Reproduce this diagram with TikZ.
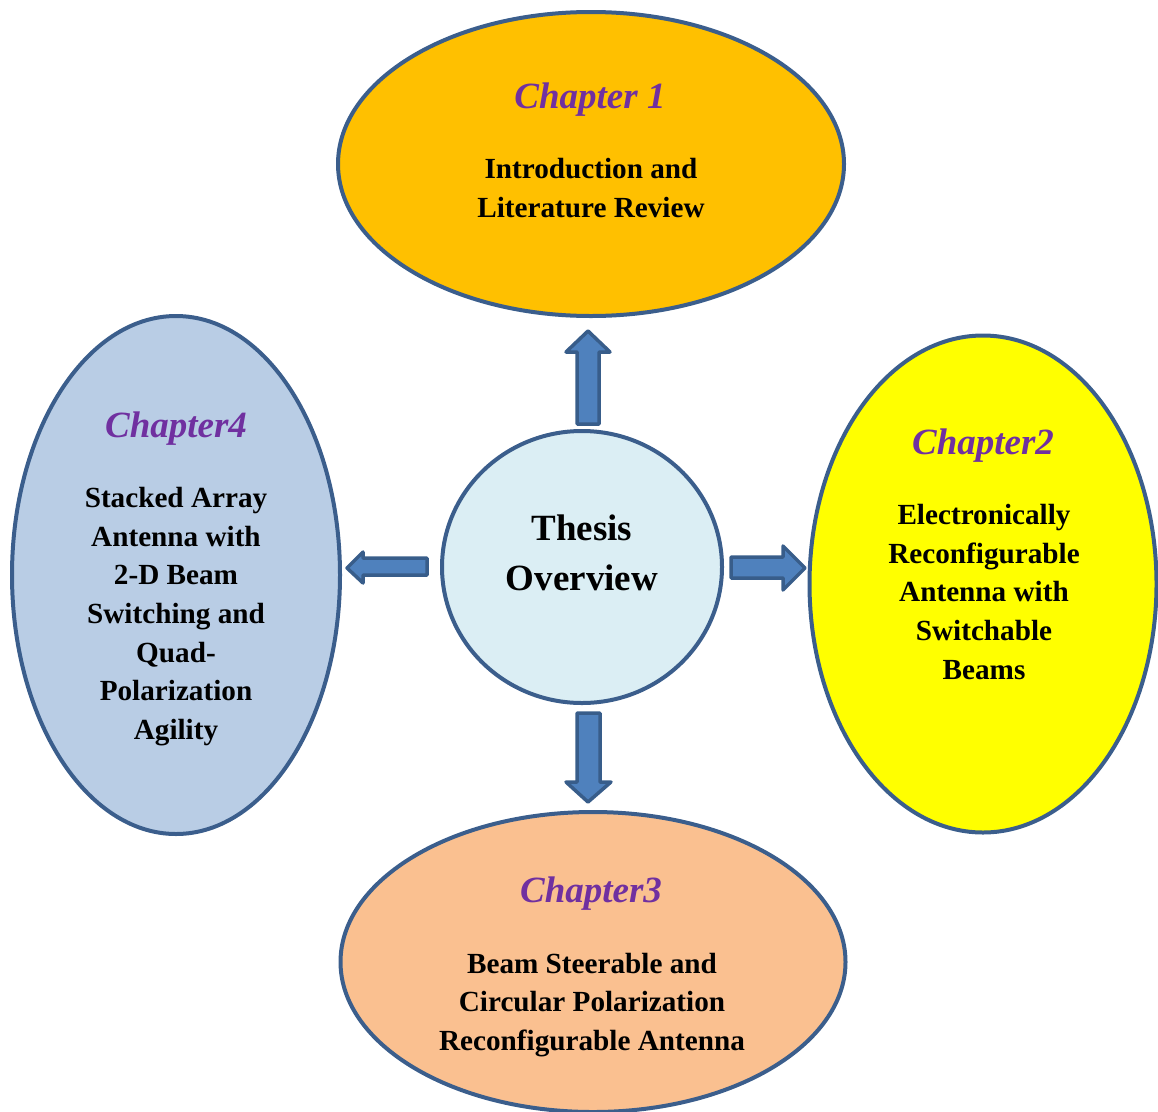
\documentclass[tikz,border=0pt]{standalone}
\usepackage{fontspec}
\setmainfont{Liberation Serif}
\usetikzlibrary{shapes.geometric}
\definecolor{edge}{HTML}{3B5E8C}
\definecolor{arrfill}{HTML}{4F81BD}
\definecolor{arredge}{HTML}{385D8A}
\definecolor{chpurple}{HTML}{7030A0}
\definecolor{cOne}{HTML}{FFC000}
\definecolor{cTwo}{HTML}{FFFF00}
\definecolor{cThree}{HTML}{FAC090}
\definecolor{cFour}{HTML}{B9CDE5}
\definecolor{cCtr}{HTML}{DBEEF4}
\begin{document}
\begin{tikzpicture}[x=1pt,y=-1pt,
  bubble/.style={ellipse, draw=edge, line width=4pt, inner sep=0pt},
  chtitle/.style={font=\fontsize{37}{40}\selectfont\bfseries\itshape, text=chpurple},
  chbody/.style={font=\fontsize{29.2}{38.7}\selectfont\bfseries, align=center, inner sep=0pt},
  blockarrow/.style={fill=arrfill, draw=arredge, line width=3.5pt, line join=round}]
\useasboundingbox (0,0) rectangle (1158,1111);
% ellipses
\node[bubble, fill=cOne, minimum width=506pt, minimum height=304pt] (ch1) at (591,164) {};
\node[bubble, fill=cFour, minimum width=328pt, minimum height=518pt] (ch4) at (176,575) {};
\node[bubble, fill=cTwo, minimum width=347pt, minimum height=497pt] (ch2) at (983,584) {};
\node[bubble, fill=cThree, minimum width=505pt, minimum height=300pt] (ch3) at (593,962) {};
\node[bubble, fill=cCtr, minimum width=280pt, minimum height=272pt] (ctr) at (582,567) {};
% arrows
\draw[blockarrow] (577,424) -- (577,352) -- (566,352) -- (588,331) -- (610,352) -- (599,352) -- (599,424) -- cycle;
\draw[blockarrow] (731,557) -- (783,557) -- (783,546) -- (805,568) -- (783,590) -- (783,578) -- (731,578) -- cycle;
\draw[blockarrow] (427,558) -- (363,558) -- (363,552) -- (347,568) -- (363,583) -- (363,575) -- (427,575) -- cycle;
\draw[blockarrow] (577,713) -- (600,713) -- (600,782) -- (611,782) -- (588,802) -- (566,782) -- (577,782) -- cycle;
% texts
\node[chtitle] (t1) at (590,100) {Chapter 1};
\node[chbody] (b1) at (591,188) {Introduction and\\Literature Review};
\node[chtitle] (t4) at (176,429) {Chapter4};
\node[chbody] (b4) at (176,616.5) {Stacked Array\\Antenna with\\2-D Beam\\Switching and\\Quad-\\Polarization\\Agility};
\node[chtitle] (t2) at (983,446) {Chapter2};
\node[chbody] (b2) at (984,592) {Electronically\\Reconfigurable\\Antenna with\\Switchable\\Beams};
\node[chtitle] (t3) at (591,894) {Chapter3};
\node[chbody] (b3) at (592,1005) {Beam Steerable and\\Circular Polarization\\Reconfigurable Antenna};
\node[font=\fontsize{37}{50}\selectfont\bfseries, align=center, inner sep=0pt] (tc) at (582,553) {Thesis\\Overview};
\end{tikzpicture}
\end{document}
